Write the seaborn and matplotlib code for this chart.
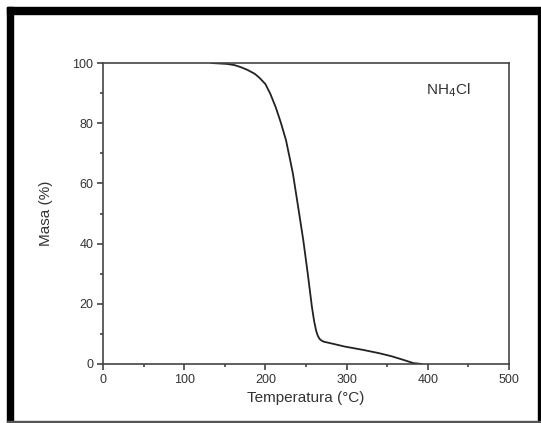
import matplotlib
matplotlib.use("Agg")
import matplotlib.pyplot as plt
import seaborn as sns
import pandas as pd
from matplotlib.patches import Rectangle
from matplotlib.ticker import MultipleLocator

# === Data ===
temperatura = [134, 153, 162, 170, 178, 187, 193, 200, 206, 212.7, 219, 225.4,
               229.5, 233.9, 240.3, 246.6, 252.1, 257.2, 260, 262.5, 264.5,
               266.5, 269, 272, 285, 297.5, 320, 339.8, 355, 369.5, 382.2, 392.8]
masa = [100, 99.7, 99.3, 98.6, 97.7, 96.4, 95.0, 93.0, 89.8, 85.3, 80.2, 74.3,
        69.0, 63.2, 52.2, 41.2, 30.1, 19.1, 14.2, 11.0, 9.4,
        8.4, 7.8, 7.4, 6.6, 5.8, 4.7, 3.6, 2.6, 1.4, 0.3, 0.0]
x_ticks = [0, 100, 200, 300, 400, 500]
y_ticks = [0, 20, 40, 60, 80, 100]

df = pd.DataFrame({"temperatura": temperatura, "masa": masa})

sns.set_style("ticks")
plt.rcParams['font.family'] = ['Liberation Sans', 'DejaVu Sans']

fig = plt.figure(figsize=(5.41, 4.23), dpi=100)
ax = fig.add_axes([0.1904, 0.1395, 0.7505, 0.7115])

sns.lineplot(data=df, x="temperatura", y="masa", ax=ax, color="#222222",
             linewidth=1.3, estimator=None, sort=False)

ax.set_xlim(0, 500)
ax.set_ylim(0, 100)
ax.set_xticks(x_ticks)
ax.set_yticks(y_ticks)
ax.xaxis.set_minor_locator(MultipleLocator(50))
ax.yaxis.set_minor_locator(MultipleLocator(10))
ax.tick_params(which="major", direction="out", length=4, width=1.1,
               labelsize=9, colors="#333333", pad=3)
ax.tick_params(which="minor", direction="out", length=2.5, width=1.1, colors="#333333")
for s in ax.spines.values():
    s.set_visible(True)
    s.set_linewidth(1.2)
    s.set_color("#444444")

ax.set_xlabel("Temperatura (°C)", fontsize=11, color="#333333", labelpad=4)
ax.set_ylabel("Masa (%)", fontsize=11, color="#333333", labelpad=14)

ax.text(0.905, 0.91, r"NH$_4$Cl", transform=ax.transAxes, ha="right", va="center",
        fontsize=11, color="#333333")

# black frame around the figure
W, H = 541, 423
fig.patches.append(Rectangle((7 / W, 1 - 14 / H), 531 / W, 7 / H, transform=fig.transFigure,
                             color="black", zorder=10))
fig.patches.append(Rectangle((7 / W, 0), 6 / W, 1 - 7 / H, transform=fig.transFigure,
                             color="black", zorder=10))
fig.patches.append(Rectangle((538 / W, 0), 3 / W, 1 - 7 / H, transform=fig.transFigure,
                             color="black", zorder=10))
fig.patches.append(Rectangle((7 / W, 0), 534 / W, 2 / H, transform=fig.transFigure,
                             color="#555555", zorder=10))

fig.savefig("out.png", dpi=100)
